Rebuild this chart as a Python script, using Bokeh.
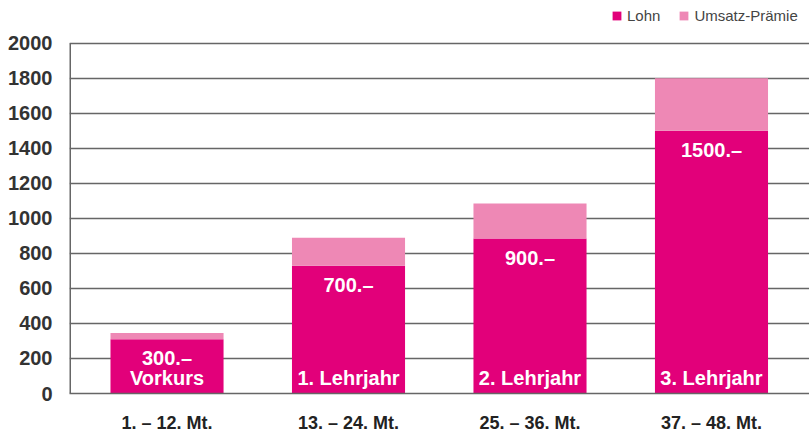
from bokeh.plotting import figure
from bokeh.models import Range1d, FixedTicker, ColumnDataSource
from bokeh.core.properties import value
from bokeh.embed import file_html
from bokeh.resources import INLINE

# ---- data ----
categories = ["1. – 12. Mt.", "13. – 24. Mt.", "25. – 36. Mt.", "37. – 48. Mt."]
lohn = [310, 730, 885, 1500]
praemie = [35, 160, 200, 300]
amount_labels = ["300.–", "700.–", "900.–", "1500.–"]
stage_labels = ["Vorkurs", "1. Lehrjahr", "2. Lehrjahr", "3. Lehrjahr"]
y_ticks = [0, 200, 400, 600, 800, 1000, 1200, 1400, 1600, 1800, 2000]

FONT = "Liberation Sans"
DARK = "#E2007A"
LIGHT = "#EE88B5"
GRID = "#666666"

X0, X1 = 0.4627, 4.54
Y_TOP = 2000 * 395 / 352  # room above 2000 for the legend

xs = list(range(1, len(categories) + 1))
src = ColumnDataSource(dict(x=xs, Lohn=lohn, Praemie=praemie,
                            amt=amount_labels, stage=stage_labels,
                            zero=[0] * len(xs)))

p = figure(width=809, height=435, output_backend="svg", toolbar_location=None,
           x_range=Range1d(X0, X1), y_range=Range1d(0, Y_TOP),
           min_border_left=69, min_border_right=0, min_border_top=0,
           min_border_bottom=40)
p.outline_line_color = None
p.background_fill_color = "white"

rs = p.vbar_stack(["Lohn", "Praemie"], x="x", width=0.623, source=src,
                  color=[DARK, LIGHT], line_color=None,
                  legend_label=["Lohn", "Umsatz-Prämie"])

# y axis line only up to the top tick
p.segment(x0=[X0], y0=[0], x1=[X0], y1=[y_ticks[-1]], line_color=GRID, line_width=3)

p.text(x="x", y="Lohn", text="amt", source=src, y_offset=19,
       text_align="center", text_baseline="middle", text_color="white",
       text_font=value(FONT), text_font_style="bold", text_font_size="20px")
p.text(x="x", y="zero", text="stage", source=src, y_offset=-16,
       text_align="center", text_baseline="middle", text_color="white",
       text_font=value(FONT), text_font_style="bold", text_font_size="20px")

# axes
p.yaxis.ticker = FixedTicker(ticks=y_ticks)
p.yaxis.major_tick_line_color = None
p.yaxis.minor_tick_line_color = None
p.yaxis.major_tick_out = 0
p.yaxis.major_tick_in = 0
p.yaxis.major_label_standoff = 17
p.yaxis.axis_line_color = None
p.yaxis.major_label_text_font = FONT
p.yaxis.major_label_text_font_style = "bold"
p.yaxis.major_label_text_font_size = "20px"
p.yaxis.major_label_text_color = "#333333"

p.xaxis.ticker = FixedTicker(ticks=xs)
p.xaxis.major_label_overrides = {x: c for x, c in zip(xs, categories)}
p.xaxis.major_tick_line_color = None
p.xaxis.minor_tick_line_color = None
p.xaxis.major_tick_out = 0
p.xaxis.major_tick_in = 0
p.xaxis.major_label_standoff = 19
p.xaxis.axis_line_color = GRID
p.xaxis.axis_line_width = 1.5
p.xaxis.major_label_text_font = FONT
p.xaxis.major_label_text_font_style = "bold"
p.xaxis.major_label_text_font_size = "18px"
p.xaxis.major_label_text_color = "#222222"

p.xgrid.grid_line_color = None
p.ygrid.ticker = FixedTicker(ticks=y_ticks)
p.ygrid.grid_line_color = GRID
p.ygrid.grid_line_width = 1.5

# legend
lg = p.legend[0]
lg.orientation = "horizontal"
lg.location = (542, 369)
lg.border_line_color = None
lg.background_fill_alpha = 0
lg.padding = 0
lg.margin = 0
lg.spacing = 18
lg.glyph_width = 11
lg.glyph_height = 11
lg.label_height = 11
lg.label_standoff = 5
lg.label_text_font = FONT
lg.label_text_font_size = "15px"
lg.label_text_color = "#444444"
lg.label_text_baseline = "middle"

open("out.html", "w").write(file_html(p, INLINE))
